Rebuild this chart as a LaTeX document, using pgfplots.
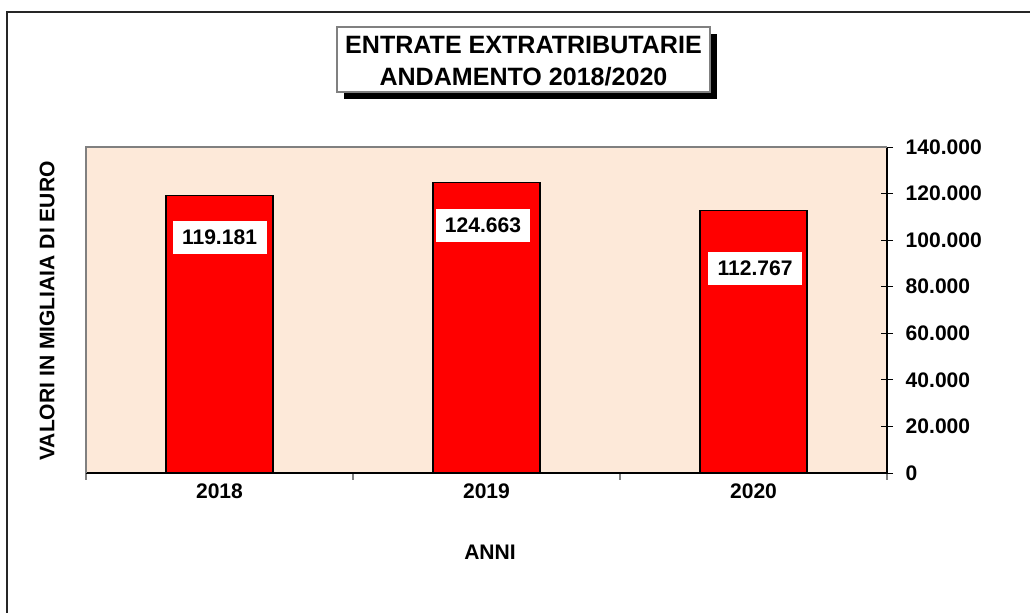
\documentclass[border=0pt]{standalone}
\usepackage{fontspec}
\setmainfont{Liberation Sans}
\usepackage{pgfplots}
\pgfplotsset{compat=1.18}
\definecolor{pesca}{HTML}{FDE9D9}
\definecolor{rosso}{HTML}{FF0000}
\definecolor{bordo}{HTML}{808080}

\begin{document}
\begin{tikzpicture}
% page: 1030x612 px at 0.75pt/px, origin at the plot's lower left corner
\useasboundingbox (-64.5pt,-104.25pt) rectangle (708pt,354.75pt);
\draw[black!85,line width=0.8pt] (-59.25pt,-110pt) -- (-59.25pt,345.75pt) -- (720pt,345.75pt);

% title with shadow
\fill[black] (193.5pt,280.5pt) rectangle (473.25pt,329.25pt);
\draw[bordo,fill=white,line width=0.8pt] (188.25pt,285.75pt) rectangle (468pt,334.5pt);
\node[font=\fontsize{18.8}{23.6}\selectfont\bfseries,align=center] at (328.1pt,309pt)
  {ENTRATE EXTRATRIBUTARIE\\ANDAMENTO 2018/2020};

\begin{axis}[
  at={(0pt,0pt)},anchor=south west,
  scale only axis,width=600.75pt,height=244.5pt,
  xmin=-0.5,xmax=2.5,ymin=0,ymax=140000,
  axis x line*=bottom,axis y line*=right,
  axis line style={black,line width=1pt},
  axis background/.style={fill=pesca},
  % boundary ticks below the category axis, years as extra ticks without marks
  xtick={-0.5,0.5,1.5,2.5},xticklabels={,,,},
  xtick style={bordo,line width=0.8pt,yshift=-2.6pt,yscale=0.58},
  extra x ticks={0,1,2},extra x tick labels={2018,2019,2020},
  extra x tick style={major tick length=0pt,tick style={draw=none}},
  ytick={0,20000,40000,60000,80000,100000,120000,140000},
  yticklabels={0,20.000,40.000,60.000,80.000,100.000,120.000,140.000},
  tick align=center,major tick length=9pt,
  ytick style={black,line width=0.6pt},
  ticklabel style={font=\fontsize{15.8}{18}\selectfont\bfseries},
  yticklabel style={anchor=west,xshift=6pt},
  xticklabel style={yshift=-4.5pt},
  scaled y ticks=false,
  clip=false,
]
\draw[bordo,line width=1.1pt] (rel axis cs:0,0) -- (rel axis cs:0,1) -- (rel axis cs:1,1);
\addplot[ybar,bar width=0.4,fill=rosso,draw=black,line width=1.1pt]
  coordinates {(0,119181) (1,124663) (2,112767)};
\node[fill=white,inner sep=0pt,minimum width=70.5pt,minimum height=24.75pt,
  font=\fontsize{15.8}{18}\selectfont\bfseries] at (axis cs:0,101135) {119.181};
\node[fill=white,inner sep=0pt,minimum width=70.5pt,minimum height=24.75pt,
  font=\fontsize{15.8}{18}\selectfont\bfseries] at (axis cs:0.987,106288) {124.663};
\node[fill=white,inner sep=0pt,minimum width=70.5pt,minimum height=24.75pt,
  font=\fontsize{15.8}{18}\selectfont\bfseries] at (axis cs:2.006,87822) {112.767};
\end{axis}

\node[rotate=90,font=\fontsize{15.8}{18}\selectfont\bfseries] at (-29.25pt,121.5pt) {VALORI IN MIGLIAIA DI EURO};
\node[font=\fontsize{15.8}{18}\selectfont\bfseries] at (303pt,-59.25pt) {ANNI};
\end{tikzpicture}
\end{document}
